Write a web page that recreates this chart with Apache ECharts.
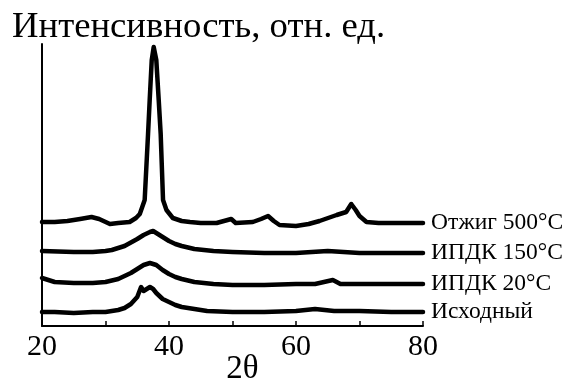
<!DOCTYPE html>
<html>
<head>
<meta charset="utf-8">
<script src="https://cdn.jsdelivr.net/npm/echarts@6/dist/echarts.min.js"></script>
<style>
  html, body { margin: 0; padding: 0; background: #fff; }
  #chart { width: 568px; height: 387px; }
</style>
</head>
<body>
<div id="chart"></div>
<script>
// XRD patterns, 2θ vs intensity (arbitrary units, curves already shifted)
const seriesNames = ['Исходный', 'ИПДК 20°C', 'ИПДК 150°C', 'Отжиг 500°C'];

const initial = [
  [20, 14], [22, 14], [25, 13], [28, 14], [30, 14], [32, 16], [33, 18], [34, 22],
  [35, 29], [35.6, 39], [36, 35], [36.5, 37], [37, 39], [37.5, 37], [38, 33],
  [39, 27], [40, 24], [41, 21], [42, 19], [44, 17], [46, 15], [50, 14], [55, 14],
  [60, 15], [63, 17], [66, 15], [70, 15], [75, 14], [80, 14]
];
const hpt20 = [
  [20, 48], [21, 46], [22, 44], [25, 43], [28, 43], [30, 44], [32, 47], [34, 53],
  [35, 57], [36, 61], [37, 63], [38, 61], [39, 56], [40, 52], [41, 49], [42, 47],
  [44, 44], [47, 42], [50, 41], [55, 41], [60, 42], [63, 42], [65.8, 46], [67, 42],
  [70, 42], [75, 42], [80, 42]
];
const hpt150 = [
  [20, 75], [25, 74], [28, 74], [30, 75], [31, 76], [33, 80], [35, 87], [36, 91],
  [37, 94], [37.5, 95], [38, 93], [39, 89], [40, 85], [41, 82], [42, 80], [44, 77],
  [47, 75], [50, 74], [55, 73], [60, 73], [65, 75], [70, 73], [75, 73], [80, 73]
];
const annealed = [
  [20, 104], [22, 104], [24, 105], [26, 107], [27.8, 109], [29, 107], [30.7, 102],
  [32, 103], [33.8, 104], [34.8, 108], [35.4, 112], [36.17, 126], [36.7, 192],
  [36.96, 226], [37.28, 266], [37.59, 279], [38.0, 266], [38.38, 226], [38.69, 192],
  [39.06, 126], [39.6, 116], [40.6, 108], [42, 105], [43.3, 104], [45, 103],
  [47.5, 103], [49.8, 107], [50.5, 103], [53.2, 104], [54.5, 107], [55.6, 110],
  [56.5, 105], [57.4, 101], [60, 100], [62, 102], [63.7, 105], [66.4, 111],
  [67.9, 114], [68.7, 122], [69.4, 116], [70, 110], [71.1, 104], [73, 103],
  [76, 103], [80, 103]
];
const seriesData = [initial, hpt20, hpt150, annealed];
const xLabels = [20, 40, 60, 80];

const serif = "'Liberation Serif', 'Times New Roman', serif";
const chart = echarts.init(document.getElementById('chart'));

const option = {
  animation: false,
  backgroundColor: '#fff',
  title: {
    text: 'Интенсивность, отн. ед.',
    left: 7,
    top: 4,
    textStyle: { fontFamily: serif, fontSize: 36.7, fontWeight: 'normal', color: '#000' }
  },
  grid: { left: 42, right: 145, top: 44, bottom: 61, outerBoundsMode: 'none' },
  xAxis: {
    type: 'value',
    min: 20,
    max: 80,
    interval: 10,
    name: '2θ',
    nameLocation: 'middle',
    nameGap: 27,
    nameMoveOverlap: false,
    nameTextStyle: { fontFamily: serif, fontSize: 33, color: '#000', padding: [0, 0, 0, 20] },
    axisLine: { lineStyle: { color: '#000', width: 2 } },
    axisTick: { inside: true, length: 5, lineStyle: { color: '#000', width: 1.5 } },
    axisLabel: {
      margin: 6,
      fontFamily: serif,
      fontSize: 30,
      color: '#000',
      formatter: v => (xLabels.indexOf(v) >= 0 ? String(v) : '')
    },
    splitLine: { show: false }
  },
  yAxis: {
    type: 'value',
    min: 0,
    max: 282,
    axisLine: { show: true, lineStyle: { color: '#000', width: 2 } },
    axisTick: { show: false },
    axisLabel: { show: false },
    splitLine: { show: false }
  },
  series: seriesNames.map((name, i) => ({
    name: name,
    type: 'line',
    data: seriesData[i],
    symbol: 'none',
    lineStyle: { color: '#000', width: 4.5, join: 'round', cap: 'round' },
    endLabel: {
      show: true,
      formatter: '{a}',
      distance: 8,
      fontFamily: serif,
      fontSize: 23.5,
      color: '#000'
    }
  }))
};

chart.setOption(option);
</script>
</body>
</html>
